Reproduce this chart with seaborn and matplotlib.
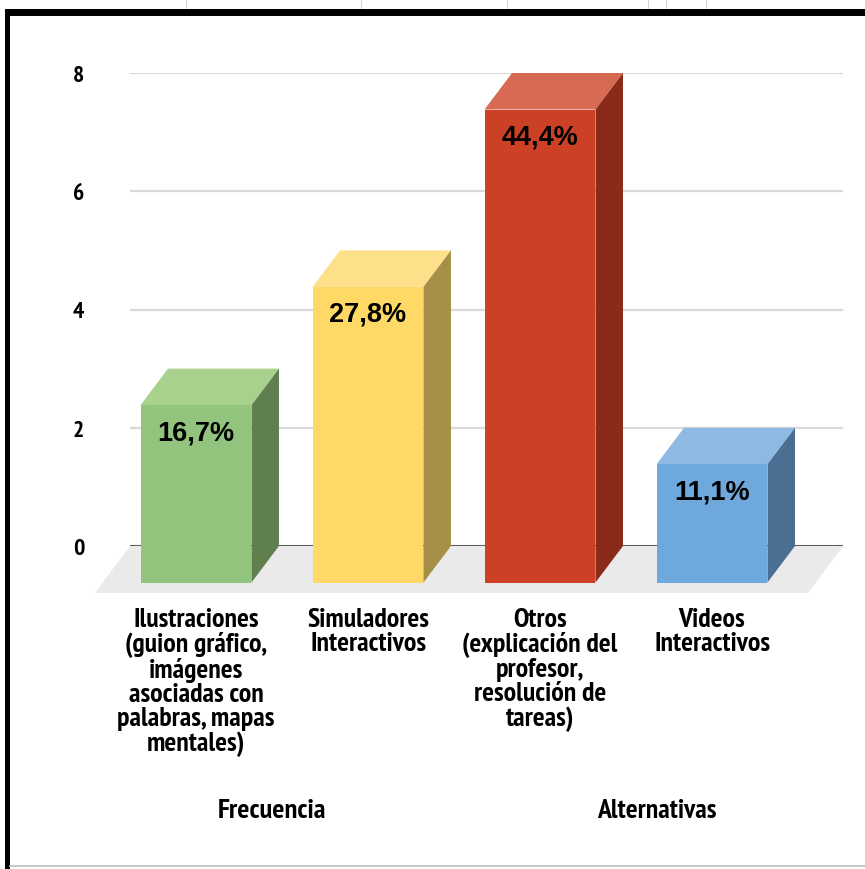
import matplotlib
matplotlib.use("Agg")
import matplotlib.pyplot as plt
import seaborn as sns
import pandas as pd
from matplotlib import font_manager
from matplotlib.patches import Polygon, Rectangle
from matplotlib.lines import Line2D

# ---- data -------------------------------------------------------------
categories = [
    "Ilustraciones\n(guion gráfico,\nimágenes\nasociadas con\npalabras, mapas\nmentales)",
    "Simuladores\nInteractivos",
    "Otros\n(explicación del\nprofesor,\nresolución de\ntareas)",
    "Videos\nInteractivos",
]
frequency = [3, 5, 8, 2]
percent_labels = ["16,7%", "27,8%", "44,4%", "11,1%"]
y_ticks = [0, 2, 4, 6, 8]

front_colors = ["#93C47D", "#FFD966", "#CC4125", "#6FA8DC"]
top_colors = ["#A9D18E", "#FFE08A", "#D86A53", "#8DB9E3"]
side_colors = ["#5F7F4F", "#A68F47", "#8A2A19", "#4A6F93"]

# ---- fonts ------------------------------------------------------------
sns.set_theme(style="white")


def _w(v):
    return v if isinstance(v, int) else font_manager.weight_dict.get(str(v), 400)


bold_faces = {f.name for f in font_manager.fontManager.ttflist
              if _w(f.weight) >= 700 and f.style == "normal"}


def first_bold_font(*names):
    for n in names:
        if n in bold_faces:
            return n
    return "Liberation Sans"


narrow = first_bold_font("Arial Narrow", "Liberation Sans Narrow", "Archivo Narrow",
                         "PT Sans Narrow", "Roboto Condensed", "Fira Sans Condensed",
                         "IBM Plex Sans Condensed", "Barlow Semi Condensed",
                         "Encode Sans Condensed", "Asap Condensed", "Arimo")
wide = first_bold_font("Arial", "Arimo", "Liberation Sans")
plt.rcParams["font.family"] = [narrow, "DejaVu Sans"]
plt.rcParams["font.weight"] = "bold"

W, H = 865, 870
fig = plt.figure(figsize=(W / 100, H / 100), dpi=100)
fig.patch.set_facecolor("white")

# plotting area = back wall of the 3D chart
ax_left, ax_right, ax_top, ax_bottom = 130, 843, 74, 547
ax = fig.add_axes([ax_left / W, 1 - ax_bottom / H,
                   (ax_right - ax_left) / W, (ax_bottom - ax_top) / H])
ax.set_facecolor("none")

df = pd.DataFrame({"categoria": categories, "frecuencia": frequency})
sns.barplot(data=df, x="categoria", y="frecuencia", hue="categoria",
            palette=front_colors, saturation=1, width=0.645,
            errorbar=None, legend=False, ax=ax, zorder=5)

ax.set_xlim(-0.5436, 3.6017)
ax.set_ylim(0, 8)
for s in ax.spines.values():
    s.set_visible(False)


def px_to_data(dx_px, dy_px):
    x0, y0 = ax.transData.transform((0, 0))
    x1, y1 = ax.transData.inverted().transform((x0 + dx_px, y0 + dy_px))
    return x1, y1


# depth offsets (bar depth and floor depth)
ddx, ddy = px_to_data(27.5, 36.5)
fdx, fdy = px_to_data(35, 47)

# floor
xl0, xl1 = ax.get_xlim()
floor = Polygon([(xl0, 0), (xl1, 0), (xl1 - fdx, -fdy), (xl0 - fdx, -fdy)],
                closed=True, facecolor="#EAEAEA", edgecolor="none",
                zorder=1, clip_on=False)
ax.add_patch(floor)

# gridlines and base line on the back wall
ax.set_yticks(y_ticks)
ax.yaxis.grid(True, color="#D9D9D9", linewidth=1.6, zorder=0)
ax.axhline(0, color="#333333", linewidth=1.8, zorder=2)

bars = sorted([p for c in ax.containers for p in c], key=lambda p: p.get_x())
front_centers = []
for i, bar in enumerate(bars):
    x, w, h = bar.get_x(), bar.get_width(), bar.get_height()
    # move the bar to the front plane
    bar.set_x(x - ddx)
    bar.set_y(-ddy)
    bar.set_edgecolor("none")
    bar.set_clip_on(False)
    bar.set_zorder(6)
    top = Polygon([(x - ddx, h - ddy), (x + w - ddx, h - ddy), (x + w, h), (x, h)],
                  closed=True, facecolor=top_colors[i], edgecolor="none",
                  zorder=5, clip_on=False)
    side = Polygon([(x + w - ddx, h - ddy), (x + w, h), (x + w, 0),
                    (x + w - ddx, -ddy)],
                   closed=True, facecolor=side_colors[i], edgecolor="none",
                   zorder=5, clip_on=False)
    ax.add_patch(top)
    ax.add_patch(side)
    cx = x + w / 2 - ddx
    front_centers.append(cx)
    ax.annotate(percent_labels[i], xy=(cx, h - ddy), xytext=(0, -34),
                textcoords="offset pixels", ha="center", va="baseline",
                fontsize=19.5, fontweight="bold", color="black",
                family=[wide, "DejaVu Sans"], zorder=8)

# axis ticks / labels
ax.tick_params(axis="y", length=0, pad=33, labelsize=17, labelcolor="black")
for t in ax.get_yticklabels():
    t.set_fontweight("bold")
ax.set_xticks(front_centers)
ax.set_xticklabels(categories, fontsize=20, fontweight="bold",
                   linespacing=1.0, ha="center", color="black")
ax.tick_params(axis="x", length=0, pad=44)

ax.set_xlabel("Alternativas", fontsize=20, fontweight="bold", color="black")
ax.xaxis.set_label_coords((657 - ax_left) / (ax_right - ax_left),
                          (ax_bottom - 811) / (ax_bottom - ax_top))
ax.xaxis.label.set_va("center")
ax.set_ylabel("Frecuencia", fontsize=20.5, fontweight="bold", color="black",
              rotation=0)
ax.yaxis.set_label_coords((272 - ax_left) / (ax_right - ax_left),
                          (ax_bottom - 811) / (ax_bottom - ax_top))
ax.yaxis.label.set_va("center")
ax.yaxis.label.set_ha("center")

# outer frame of the chart object
fig.add_artist(Rectangle((5 / W, 0), 5 / W, 1 - 10 / H,
                         transform=fig.transFigure, facecolor="black",
                         edgecolor="none"))
fig.add_artist(Rectangle((5 / W, 1 - 17 / H), 1 - 5 / W, 7 / H,
                         transform=fig.transFigure, facecolor="black",
                         edgecolor="none"))
fig.add_artist(Line2D([10 / W, 1], [1 - 867 / H, 1 - 867 / H],
                      transform=fig.transFigure, color="#C8C8C8", lw=1.5))
for gx in [186, 361, 507, 648, 666, 706]:
    fig.add_artist(Line2D([gx / W, gx / W], [1 - 9 / H, 1],
                          transform=fig.transFigure, color="#D5D5D5", lw=0.8))

fig.savefig("out.png", dpi=100, facecolor="white")
